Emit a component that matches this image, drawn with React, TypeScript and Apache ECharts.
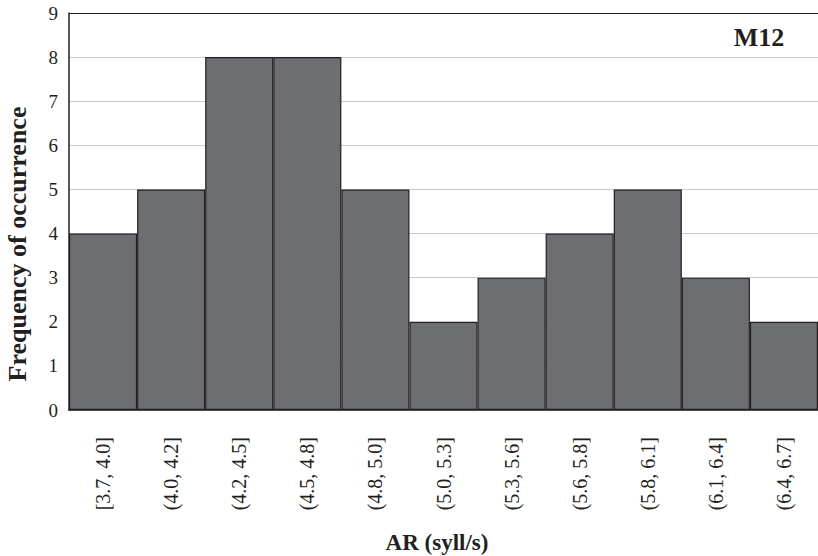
import React, { useEffect, useRef } from "react";
import * as echarts from "echarts";

const categories = [
  "[3.7, 4.0]",
  "(4.0, 4.2]",
  "(4.2, 4.5]",
  "(4.5, 4.8]",
  "(4.8, 5.0]",
  "(5.0, 5.3]",
  "(5.3, 5.6]",
  "(5.6, 5.8]",
  "(5.8, 6.1]",
  "(6.1, 6.4]",
  "(6.4, 6.7]",
];
const counts = [4, 5, 8, 8, 5, 2, 3, 4, 5, 3, 2];
const yTicks = [0, 1, 2, 3, 4, 5, 6, 7, 8, 9];

const FONT = '"Liberation Serif", "DejaVu Serif", serif';
const INK = "#231f20";

export default function App() {
  const ref = useRef<HTMLDivElement>(null);

  useEffect(() => {
    if (!ref.current) return;
    document.body.style.margin = "0";
    document.body.style.overflow = "hidden";
    const chart = echarts.init(ref.current, undefined, { renderer: "svg" });
    // light grid lines, with the top line drawn dark like a frame edge
    const gridColors = yTicks.map((t) => (t === yTicks[yTicks.length - 1] ? INK : "#cbcbcb"));
    chart.setOption({
      animation: false,
      backgroundColor: "#ffffff",
      grid: { left: 69, right: 0, top: 13, bottom: 146, containLabel: false },
      xAxis: {
        type: "category",
        data: categories,
        axisLine: { show: true, lineStyle: { color: INK, width: 1.5 } },
        axisTick: { show: false },
        axisLabel: {
          rotate: 90,
          margin: 27,
          fontFamily: FONT,
          fontSize: 20,
          color: INK,
          interval: 0,
        },
      },
      yAxis: {
        type: "value",
        min: 0,
        max: 9,
        interval: 1,
        axisLine: { show: true, lineStyle: { color: INK, width: 1.5 } },
        axisTick: { show: false },
        axisLabel: {
          margin: 11,
          fontFamily: FONT,
          fontSize: 19,
          color: INK,
        },
        splitLine: { show: true, lineStyle: { color: gridColors, width: 1.2 } },
      },
      series: [
        {
          type: "bar",
          data: counts,
          barCategoryGap: 0,
          itemStyle: { color: "#6d6e71", borderColor: INK, borderWidth: 1.2 },
        },
      ],
      graphic: [
        {
          type: "text",
          x: 17,
          y: 244,
          rotation: Math.PI / 2,
          style: {
            text: "Frequency of occurrence",
            font: `bold 26px ${FONT}`,
            fill: INK,
            align: "center",
            verticalAlign: "middle",
          },
        },
        {
          type: "text",
          x: 437,
          y: 542,
          style: {
            text: "AR (syll/s)",
            font: `bold 23px ${FONT}`,
            fill: INK,
            align: "center",
            verticalAlign: "middle",
          },
        },
        {
          type: "text",
          x: 759,
          y: 37,
          style: {
            text: "M12",
            font: `bold 26px ${FONT}`,
            fill: INK,
            align: "center",
            verticalAlign: "middle",
          },
        },
      ],
    });
    return () => chart.dispose();
  }, []);

  return <div ref={ref} style={{ width: 818, height: 556 }} />;
}
